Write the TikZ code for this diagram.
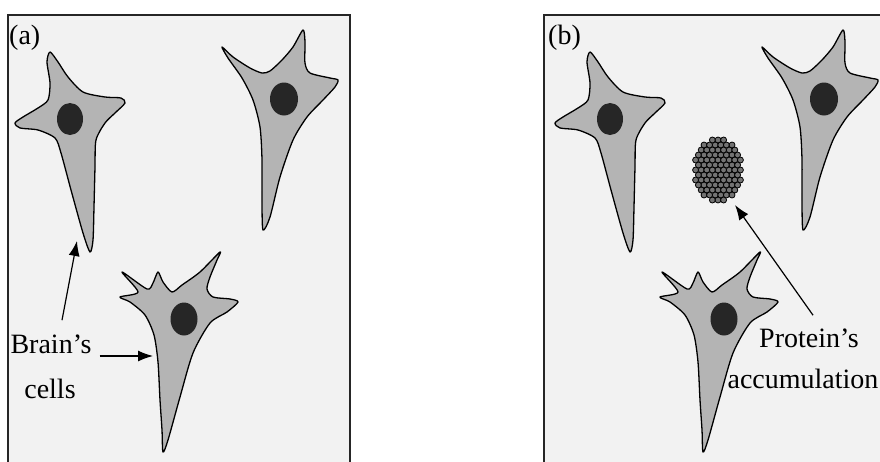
\documentclass[tikz,border=0pt]{standalone}
\usepackage{fontspec}
\setmainfont{Liberation Serif}
\usetikzlibrary{arrows.meta}

\definecolor{paper}{HTML}{F2F2F2}
\definecolor{cellgray}{HTML}{B4B4B4}
\definecolor{nucdark}{HTML}{262626}

\tikzset{
  panel/.style={fill=paper, draw=black!85, line width=1.4pt},
  cellbody/.style={fill=cellgray, draw=black, line width=1.3pt, line join=round},
  nuc/.style={fill=nucdark},
  lbl/.style={font=\fontsize{28}{30}\selectfont, inner sep=0pt},
  pointer/.style={line width=1.2pt, -{Latex[length=15pt,width=11pt]}},
  protein/.style={fill=black!55, draw=black, line width=0.8pt},
}

% the three cells, same in both panels
\newcommand{\drawcells}{
  % upper left cell
  \draw[cellbody] plot[smooth cycle, tension=0.45] coordinates {
    (50,52) (58,62) (68,77) (83,92) (105,97) (121,98) (125,103) (115,113)
    (105,123) (96,140) (95,167) (94,207) (93,240) (90,252) (83,233)
    (71,190) (61,153) (55,138) (38,130) (20,128) (15,123) (23,117)
    (38,108) (48,100) (50,83) (47,62)};
  \fill[nuc] (70,119) ellipse [x radius=13, y radius=16];
  % upper right cell
  \draw[cellbody] plot[smooth cycle, tension=0.45] coordinates {
    (303,30) (293,47) (282,60) (270,71) (262,73) (250,68) (233,57) (222,47)
    (228,58) (242,78) (253,100) (260,127) (262,160) (262,203) (263,230)
    (270,217) (280,177) (293,140) (307,117) (323,100) (335,87) (338,80)
    (330,78) (310,73) (305,63) (305,42)};
  \fill[nuc] (284,99) ellipse [x radius=14, y radius=16.5];
  % lower cell
  \draw[cellbody] plot[smooth cycle, tension=0.45] coordinates {
    (220,252) (200,272) (182,285) (172,292) (163,282) (158,272) (153,283)
    (147,289) (122,272) (138,292) (120,297) (130,302) (145,315) (154,335)
    (158,362) (160,400) (162,430) (163,452) (168,440) (180,397) (193,353)
    (210,323) (227,312) (238,302) (230,299) (213,297) (207,289) (210,277)
    (217,260)};
  \fill[nuc] (184,319) ellipse [x radius=13.5, y radius=16.5];
}

\begin{document}
\begin{tikzpicture}[x=1pt, y=-1pt]
\clip (0,0) rectangle (880,461);

% Healthy tissue
\draw[panel] (8,15) rectangle (350,475);
\drawcells
\node[lbl, anchor=base west] (tagA) at (9,44) {(a)};
\node[lbl, anchor=base] (brain) at (51,353) {Brain’s};
\node[lbl, anchor=base] (cells) at (50,398) {cells};
\coordinate (celltip) at (77,241);
\coordinate (celledge) at (153,356);
\draw[pointer] ([xshift=11pt, yshift=14pt]brain.north) -- (celltip);
\draw[pointer] ([xshift=8pt, yshift=-3pt]brain.base east) -- (celledge);

% Tissue with aggregate
\begin{scope}[xshift=540]
\draw[panel] (4,15) rectangle (350,475);
\drawcells
\end{scope}
\node[lbl, anchor=base west] (tagB) at (548,44) {(b)};
\foreach \r in {0,...,12}{
  \foreach \c in {-5,...,5}{
    \pgfmathsetmacro{\px}{\c*5.6+mod(\r,2)*2.8}
    \pgfmathsetmacro{\py}{\r*5-30}
    \pgfmathtruncatemacro{\inside}{(\px/24)^2+(\py/31)^2<1}
    \ifnum\inside=1 \draw[protein] (718+\px,170+\py) circle (3); \fi
  }
}
\coordinate (clump) at (735,205);
\node[lbl, anchor=base] (protein) at (809,347) {Protein’s};
\node[lbl, anchor=base] (accum) at (803,388) {accumulation};
\draw[pointer] ([xshift=4pt, yshift=13pt]protein.north) -- (clump);
\end{tikzpicture}
\end{document}
